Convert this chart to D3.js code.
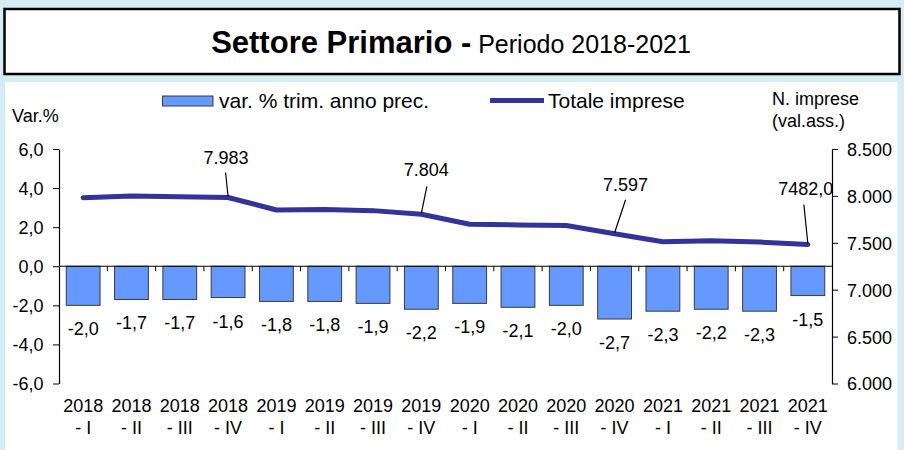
<!DOCTYPE html>
<html>
<head>
<meta charset="utf-8">
<script src="https://cdn.jsdelivr.net/npm/d3@7"></script>
<style>
  html, body { margin: 0; padding: 0; background: #d5ecf3; }
  svg { display: block; font-family: "Liberation Sans", Arial, sans-serif; }
</style>
</head>
<body>
<svg id="chart" width="904" height="450"></svg>
<script>
// ---------- DATA ----------
const categories = ["2018 - I","2018 - II","2018 - III","2018 - IV",
                    "2019 - I","2019 - II","2019 - III","2019 - IV",
                    "2020 - I","2020 - II","2020 - III","2020 - IV",
                    "2021 - I","2021 - II","2021 - III","2021 - IV"];
const varPct = [-2.0,-1.7,-1.7,-1.6,-1.8,-1.8,-1.9,-2.2,-1.9,-2.1,-2.0,-2.7,-2.3,-2.2,-2.3,-1.5];
const totaleImprese = [7980,7998,7990,7983,7850,7855,7843,7804,7697,7690,7684,7597,7512,7522,7508,7482];
const leftTicks = [-6,-4,-2,0,2,4,6];
const leftTickLabels = ["-6,0","-4,0","-2,0","0,0","2,0","4,0","6,0"];
const rightTicks = [6000,6500,7000,7500,8000,8500];
const rightTickLabels = ["6.000","6.500","7.000","7.500","8.000","8.500"];
const lineLabelIdx = [3, 7, 11, 15];
const lineLabelText = ["7.983","7.804","7.597","7482,0"];
const seriesNames = ["var. % trim. anno prec.","Totale imprese"];
const titleBold = "Settore Primario -";
const titleRest = " Periodo 2018-2021";

// ---------- STYLE / LAYOUT ----------
const barFill = "#6699ff", barStroke = "#3a3a3a", lineColor = "#333399";
const font = 18;
// label offsets (dx, dy of text baseline relative to point; leader start offset)
const leaderStyle = [
  {tx:-2, ty:-33, lx:-2.5, ly:-25},
  {tx: 5, ty:-38, lx: 5.5, ly:-28},
  {tx:11, ty:-43, lx:11,   ly:-34},
  {tx:-2, ty:-49, lx:-4,   ly:-40}
];

const svg = d3.select("#chart");

// white chart panel
svg.append("rect").attr("x",5).attr("y",82).attr("width",892.5).attr("height",368).attr("fill","#ffffff");
// title box
svg.append("rect").attr("x",4.5).attr("y",9).attr("width",895).attr("height",65)
   .attr("fill","#ffffff").attr("stroke","#000").attr("stroke-width",2.5);
const title = svg.append("text").attr("x",451).attr("y",52.5).attr("text-anchor","middle").attr("fill","#000");
title.append("tspan").attr("font-weight","bold").attr("font-size",31).text(titleBold);
title.append("tspan").attr("font-size",25).text(titleRest);

// scales
const x = d3.scaleBand().domain(categories).range([59, 832]).paddingInner(0.3).paddingOuter(0.15);
const yL = d3.scaleLinear().domain([-6, 6]).range([383.5, 149]);
const yR = d3.scaleLinear().domain([6000, 8500]).range([383.5, 149]);

// bars
svg.append("g").selectAll("rect").data(varPct).join("rect")
  .attr("x", (d,i) => x(categories[i]))
  .attr("y", d => yL(Math.max(0,d)))
  .attr("width", x.bandwidth())
  .attr("height", d => Math.abs(yL(d) - yL(0)))
  .attr("fill", barFill).attr("stroke", barStroke).attr("stroke-width", 1);

// zero line + category ticks
svg.append("line").attr("x1",59).attr("x2",832).attr("y1",yL(0)).attr("y2",yL(0)).attr("stroke","#000").attr("stroke-width",1.2);
const step = x.step();
svg.append("g").selectAll("line").data(d3.range(1, categories.length)).join("line")
  .attr("x1", i => x.range()[0] + i*step).attr("x2", i => x.range()[0] + i*step)
  .attr("y1", yL(0)).attr("y2", yL(0)+5).attr("stroke","#000").attr("stroke-width",1);

// left axis
const gL = svg.append("g").attr("transform","translate(59,0)")
  .call(d3.axisLeft(yL).tickValues(leftTicks).tickSize(6).tickSizeOuter(0)
        .tickFormat((d,i) => leftTickLabels[i]));
gL.select(".domain").attr("stroke","#000").attr("stroke-width",1.2);
gL.selectAll(".tick text").attr("font-size",font).attr("font-family","Liberation Sans, Arial, sans-serif")
  .attr("fill","#000").attr("x",-15.5).attr("dy","0.36em");

// right axis
const gR = svg.append("g").attr("transform","translate(832,0)")
  .call(d3.axisRight(yR).tickValues(rightTicks).tickSize(6).tickSizeOuter(0)
        .tickFormat((d,i) => rightTickLabels[i]));
gR.select(".domain").attr("stroke","#000").attr("stroke-width",1.2);
gR.selectAll(".tick text").attr("font-size",font).attr("font-family","Liberation Sans, Arial, sans-serif")
  .attr("fill","#000").attr("x",15).attr("dy","0.36em");

// x labels (two lines)
const xl = svg.append("g").selectAll("text").data(categories).join("text")
  .attr("text-anchor","middle").attr("font-size",font).attr("fill","#000");
xl.append("tspan").attr("x", d => x(d) + x.bandwidth()/2).attr("y", 412)
  .text(d => d.split(" - ")[0]);
xl.append("tspan").attr("x", d => x(d) + x.bandwidth()/2).attr("y", 434)
  .text(d => "- " + d.split(" - ")[1]);

// bar value labels
svg.append("g").selectAll("text").data(varPct).join("text")
  .attr("x", (d,i) => x(categories[i]) + x.bandwidth()/2)
  .attr("y", d => yL(d) + 30)
  .attr("text-anchor","middle").attr("font-size",font).attr("fill","#000")
  .text(d => d.toFixed(1).replace(".", ","));

// line
const line = d3.line()
  .x((d,i) => x(categories[i]) + x.bandwidth()/2)
  .y(d => yR(d));
svg.append("path").datum(totaleImprese).attr("d", line)
  .attr("fill","none").attr("stroke",lineColor).attr("stroke-width",5)
  .attr("stroke-linejoin","round").attr("stroke-linecap","round");

// line labels with leaders
lineLabelIdx.forEach((idx, k) => {
  const px = x(categories[idx]) + x.bandwidth()/2;
  const py = yR(totaleImprese[idx]);
  const s = leaderStyle[k];
  svg.append("line").attr("x1", px + s.lx).attr("y1", py + s.ly).attr("x2", px).attr("y2", py - 1)
     .attr("stroke","#000").attr("stroke-width",1.2);
  svg.append("text").attr("x", px + s.tx).attr("y", py + s.ty).attr("text-anchor","middle")
     .attr("font-size",font).attr("fill","#000").text(lineLabelText[k]);
});

// axis titles
svg.append("text").attr("x",12).attr("y",122).attr("font-size",font).attr("fill","#000").text("Var.%");
svg.append("text").attr("x",772).attr("y",105).attr("font-size",font).attr("fill","#000").text("N. imprese");
svg.append("text").attr("x",772).attr("y",127).attr("font-size",font).attr("fill","#000").text("(val.ass.)");

// legend
svg.append("rect").attr("x",162.5).attr("y",96).attr("width",50.5).attr("height",10)
   .attr("fill",barFill).attr("stroke",barStroke).attr("stroke-width",1);
svg.append("text").attr("x",219).attr("y",108).attr("font-size",21).attr("fill","#000").text(seriesNames[0]);
svg.append("line").attr("x1",490).attr("x2",544).attr("y1",100.5).attr("y2",100.5)
   .attr("stroke",lineColor).attr("stroke-width",5);
svg.append("text").attr("x",548).attr("y",108).attr("font-size",21).attr("fill","#000").text(seriesNames[1]);
</script>
</body>
</html>
